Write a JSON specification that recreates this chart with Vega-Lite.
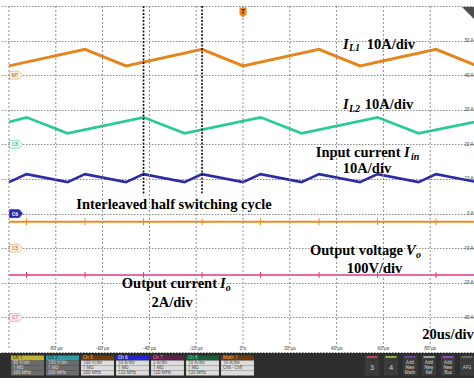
{
  "$schema": "https://vega.github.io/schema/vega-lite/v6.json",
  "background": "white",
  "padding": 0,
  "spacing": 0,
  "bounds": "flush",
  "config": {"view": {"stroke": null}},
  "datasets": {
    "timeDivisions": [
      {"t": -100, "top": 60, "end": -39.2}, {"t": -80, "top": 60, "end": -39.2}, {"t": -60, "top": 60, "end": -39.2},
      {"t": -40, "top": 60, "end": -39.2}, {"t": -20, "top": 60, "end": -39.2}, {"t": 0, "top": 60, "end": -39.2},
      {"t": 20, "top": 60, "end": -39.2}, {"t": 40, "top": 60, "end": -39.2}, {"t": 60, "top": 60, "end": -39.2},
      {"t": 80, "top": 60, "end": -39.2}
    ],
    "timeLabels": [
      {"t": -80, "value": -39.1, "text": "-80 µs"}, {"t": -60, "value": -39.1, "text": "-60 µs"},
      {"t": -40, "value": -39.1, "text": "-40 µs"}, {"t": -20, "value": -39.1, "text": "-20 µs"},
      {"t": 0, "value": -39.1, "text": "0 s"}, {"t": 20, "value": -39.1, "text": "20 µs"},
      {"t": 40, "value": -39.1, "text": "40 µs"}, {"t": 60, "value": -39.1, "text": "60 µs"},
      {"t": 80, "value": -39.1, "text": "80 µs"}
    ],
    "il1": [
      {"t": -100, "value": 2.7}, {"t": -67.5, "value": 7.5}, {"t": -50, "value": 2.7}, {"t": -17.5, "value": 7.5},
      {"t": 0, "value": 2.7}, {"t": 32.5, "value": 7.5}, {"t": 50, "value": 2.7}, {"t": 82.5, "value": 7.5}, {"t": 100, "value": 2.7}
    ],
    "il2": [
      {"t": -100, "value": 6.5}, {"t": -92.5, "value": 7.8}, {"t": -75, "value": 3.2}, {"t": -42.5, "value": 7.8},
      {"t": -25, "value": 3.2}, {"t": 7.5, "value": 7.8}, {"t": 25, "value": 3.2}, {"t": 57.5, "value": 7.8},
      {"t": 75, "value": 3.2}, {"t": 100, "value": 6.6}
    ],
    "iin": [
      {"t": -100, "value": 9.1}, {"t": -92.5, "value": 11.4}, {"t": -75, "value": 9.1}, {"t": -67.5, "value": 11.4},
      {"t": -50, "value": 9.1}, {"t": -42.5, "value": 11.4}, {"t": -25, "value": 9.1}, {"t": -17.5, "value": 11.4},
      {"t": 0, "value": 9.1}, {"t": 7.5, "value": 11.4}, {"t": 25, "value": 9.1}, {"t": 32.5, "value": 11.4},
      {"t": 50, "value": 9.1}, {"t": 57.5, "value": 11.4}, {"t": 75, "value": 9.1}, {"t": 82.5, "value": 11.4}, {"t": 100, "value": 9.1}
    ],
    "vo": [{"t": -100, "value": 76.6}, {"t": 100, "value": 76.6}],
    "voEdges": [
      {"t": -92.5, "value": 76.6}, {"t": -67.5, "value": 76.6}, {"t": -42.5, "value": 76.6}, {"t": -17.5, "value": 76.6},
      {"t": 7.5, "value": 76.6}, {"t": 32.5, "value": 76.6}, {"t": 57.5, "value": 76.6}, {"t": 82.5, "value": 76.6}
    ],
    "io": [{"t": -100, "value": 2.45}, {"t": 100, "value": 2.45}],
    "ioEdges": [
      {"t": -92.5, "value": 2.45}, {"t": -67.5, "value": 2.45}, {"t": -42.5, "value": 2.45}, {"t": -17.5, "value": 2.45},
      {"t": 7.5, "value": 2.45}, {"t": 32.5, "value": 2.45}, {"t": 57.5, "value": 2.45}, {"t": 82.5, "value": 2.45}
    ],
    "markers": [
      {"channel": "M1", "label": "M1", "t": -97, "value": 0},
      {"channel": "C8", "label": "C8", "t": -97, "value": 0},
      {"channel": "C6", "label": "C6", "t": -97, "value": 0},
      {"channel": "C5", "label": "C5", "t": -97, "value": 0},
      {"channel": "C7", "label": "C7", "t": -97, "value": 0}
    ],
    "cursors": [{"t": -42.5, "top": 60, "end": 5.3}, {"t": -17.5, "top": 60, "end": 5.9}],
    "labels": [
      {"t": 63.2, "value": 47.7, "text": "10A/div"},
      {"t": 62.4, "value": 30.1, "text": "10A/div"},
      {"t": 53.0, "value": 11.65, "text": "10A/div"},
      {"t": -29.5, "value": 1.24, "text": "Interleaved half switching cycle"},
      {"t": 56.2, "value": -17.1, "text": "100V/div"},
      {"t": -30.3, "value": -27.1, "text": "2A/div"},
      {"t": 87.6, "value": -36.3, "text": "20us/div"}
    ],
    "captions": [
      {"t": 67.3, "value": 16.45, "text": "Input current"},
      {"t": 68.4, "value": -12.0, "text": "Output voltage"},
      {"t": -11.1, "value": -21.6, "text": "Output current"}
    ],
    "symbols": [
      {"t": 42.7, "value": 47.7, "text": "I"},
      {"t": 42.7, "value": 30.1, "text": "I"},
      {"t": 68.8, "value": 16.45, "text": "I"},
      {"t": 69.7, "value": -12.0, "text": "V"},
      {"t": -9.8, "value": -21.6, "text": "I"}
    ],
    "subscripts": [
      {"t": 45.3, "value": 47.0, "text": "L1"},
      {"t": 45.3, "value": 29.4, "text": "L2"},
      {"t": 71.8, "value": 15.6, "text": "in"},
      {"t": 73.9, "value": -12.8, "text": "o"},
      {"t": -7.35, "value": -22.4, "text": "o"}
    ],
    "trigger": [{"t": 0, "value": 58.1, "label": "T"}],
    "offscreen": [{"t": 96.6, "value": 57.7}],
    "badges": [
      {"ch": "Ch1", "row": "head", "text": "Ch 1"}, {"ch": "Ch1", "row": "a", "text": "50 V/div"}, {"ch": "Ch1", "row": "b", "text": "1 MΩ"}, {"ch": "Ch1", "row": "c", "text": "200 MHz"},
      {"ch": "Ch2", "row": "head", "text": "Ch 2"}, {"ch": "Ch2", "row": "a", "text": "100 V/div"}, {"ch": "Ch2", "row": "b", "text": "1 MΩ"}, {"ch": "Ch2", "row": "c", "text": "200 MHz"},
      {"ch": "Ch5", "row": "head", "text": "Ch 5"}, {"ch": "Ch5", "row": "a", "text": "100 V/div"}, {"ch": "Ch5", "row": "b", "text": "1 MΩ"}, {"ch": "Ch5", "row": "c", "text": "200 MHz"},
      {"ch": "Ch6", "row": "head", "text": "Ch 6"}, {"ch": "Ch6", "row": "a", "text": "10 A/div"}, {"ch": "Ch6", "row": "b", "text": "1 MΩ"}, {"ch": "Ch6", "row": "c", "text": "120 MHz"},
      {"ch": "Ch7", "row": "head", "text": "Ch 7"}, {"ch": "Ch7", "row": "a", "text": "2 A/div"}, {"ch": "Ch7", "row": "b", "text": "1 MΩ"}, {"ch": "Ch7", "row": "c", "text": "120 MHz"},
      {"ch": "Ch8", "row": "head", "text": "Ch 8"}, {"ch": "Ch8", "row": "a", "text": "10 A/div"}, {"ch": "Ch8", "row": "b", "text": "1 MΩ"}, {"ch": "Ch8", "row": "c", "text": "120 MHz"},
      {"ch": "Math1", "row": "head", "text": "Math 1"}, {"ch": "Math1", "row": "a", "text": "10 A/div"}, {"ch": "Math1", "row": "b", "text": "Ch6 - Ch8"}, {"ch": "Math1", "row": "c", "text": ""}
    ],
    "buttons": [
      {"key": "3", "row": "head", "text": ""}, {"key": "3", "row": "a", "text": ""}, {"key": "3", "row": "b", "text": "3"}, {"key": "3", "row": "c", "text": ""},
      {"key": "4", "row": "head", "text": ""}, {"key": "4", "row": "a", "text": ""}, {"key": "4", "row": "b", "text": "4"}, {"key": "4", "row": "c", "text": ""},
      {"key": "Math", "row": "head", "text": ""}, {"key": "Math", "row": "a", "text": "Add"}, {"key": "Math", "row": "b", "text": "New"}, {"key": "Math", "row": "c", "text": "Math"},
      {"key": "Ref", "row": "head", "text": ""}, {"key": "Ref", "row": "a", "text": "Add"}, {"key": "Ref", "row": "b", "text": "New"}, {"key": "Ref", "row": "c", "text": "Ref"},
      {"key": "Bus", "row": "head", "text": ""}, {"key": "Bus", "row": "a", "text": "Add"}, {"key": "Bus", "row": "b", "text": "New"}, {"key": "Bus", "row": "c", "text": "Bus"},
      {"key": "AFG", "row": "head", "text": ""}, {"key": "AFG", "row": "a", "text": ""}, {"key": "AFG", "row": "b", "text": "AFG"}, {"key": "AFG", "row": "c", "text": ""}
    ]
  },
  "vconcat": [
    {
      "width": 474,
      "height": 353,
      "resolve": {"scale": {"y": "independent"}},
      "layer": [
        {
          "encoding": {
            "x": {"field": "t", "type": "quantitative", "scale": {"domain": [-103.846, 98.718], "nice": false, "zero": false}, "axis": null},
            "y": {"field": "value", "type": "quantitative", "scale": {"domain": [-40.29, 61.73], "nice": false, "zero": false},
              "axis": {"orient": "right", "values": [-40, -30, -20, -10, 0, 10, 20, 30, 40, 50, 60],
                "labelExpr": "datum.value === 60 || datum.value === -40 ? '' : datum.value + ' A'",
                "labelAlign": "right", "labelBaseline": "middle", "labelPadding": -1, "domain": false, "ticks": false,
                "grid": true, "gridColor": "#8a8a8a", "gridDash": [1.5, 1.5], "gridWidth": 1.1,
                "labelFontSize": 4.5, "labelColor": "#444444", "labelFont": "Roboto", "labelFlush": false, "labelOverlap": false, "title": null}}
          },
          "layer": [
            {"data": {"name": "iin"}, "mark": {"type": "line", "color": "#2b2ba6", "strokeWidth": 2.6, "clip": true}},
            {"data": {"name": "timeLabels"},
              "mark": {"type": "text", "align": "center", "baseline": "middle", "fontSize": 4.8, "font": "Roboto", "color": "#444444"},
              "encoding": {"text": {"field": "text"}}},
            {"data": {"name": "markers"}, "transform": [{"filter": "datum.channel === 'C6'"}],
              "mark": {"type": "point", "shape": "M-1,-0.6L0.5,-0.6L1,0L0.5,0.6L-1,0.6Z", "size": 169, "filled": true, "fill": "#2a2ab6", "stroke": "#2a2ab6", "strokeWidth": 0.8, "opacity": 1}},
            {"data": {"name": "markers"}, "transform": [{"filter": "datum.channel === 'C6'"}],
              "mark": {"type": "text", "fontSize": 5, "font": "Roboto", "fontWeight": "bold", "color": "#ffffff", "dx": -1},
              "encoding": {"text": {"field": "label"}}}
          ]
        },
        {
          "encoding": {
            "x": {"field": "t", "type": "quantitative", "scale": {"domain": [-103.846, 98.718], "nice": false, "zero": false}, "axis": null},
            "y": {"field": "value", "type": "quantitative", "scale": {"domain": [-80.29, 21.73], "nice": false, "zero": false}, "axis": null}
          },
          "layer": [
            {"data": {"name": "il1"}, "mark": {"type": "line", "color": "#e5851d", "strokeWidth": 3, "clip": true}},
            {"data": {"name": "markers"}, "transform": [{"filter": "datum.channel === 'M1'"}],
              "mark": {"type": "point", "shape": "M-1,-0.6L0.5,-0.6L1,0L0.5,0.6L-1,0.6Z", "size": 169, "filled": true, "fill": "#fdf0de", "stroke": "#efb676", "strokeWidth": 0.8, "opacity": 1}},
            {"data": {"name": "markers"}, "transform": [{"filter": "datum.channel === 'M1'"}],
              "mark": {"type": "text", "fontSize": 5, "font": "Roboto", "color": "#8a6a48", "dx": -1},
              "encoding": {"text": {"field": "label"}}}
          ]
        },
        {
          "encoding": {
            "x": {"field": "t", "type": "quantitative", "scale": {"domain": [-103.846, 98.718], "nice": false, "zero": false}, "axis": null},
            "y": {"field": "value", "type": "quantitative", "scale": {"domain": [-60.29, 41.73], "nice": false, "zero": false}, "axis": null}
          },
          "layer": [
            {"data": {"name": "il2"}, "mark": {"type": "line", "color": "#27cc91", "strokeWidth": 2.6, "clip": true}},
            {"data": {"name": "markers"}, "transform": [{"filter": "datum.channel === 'C8'"}],
              "mark": {"type": "point", "shape": "M-1,-0.6L0.5,-0.6L1,0L0.5,0.6L-1,0.6Z", "size": 169, "filled": true, "fill": "#e9faf3", "stroke": "#84dcbd", "strokeWidth": 0.8, "opacity": 1}},
            {"data": {"name": "markers"}, "transform": [{"filter": "datum.channel === 'C8'"}],
              "mark": {"type": "text", "fontSize": 5, "font": "Roboto", "color": "#5a8f7e", "dx": -1},
              "encoding": {"text": {"field": "label"}}}
          ]
        },
        {
          "encoding": {
            "x": {"field": "t", "type": "quantitative", "scale": {"domain": [-103.846, 98.718], "nice": false, "zero": false}, "axis": null},
            "y": {"field": "value", "type": "quantitative", "scale": {"domain": [-302.89, 717.34], "nice": false, "zero": false}, "axis": null}
          },
          "layer": [
            {"data": {"name": "vo"}, "mark": {"type": "line", "color": "#ee8a24", "strokeWidth": 2, "clip": true}},
            {"data": {"name": "voEdges"}, "mark": {"type": "tick", "orient": "vertical", "size": 7, "thickness": 1, "color": "#ee8a24", "opacity": 1}},
            {"data": {"name": "markers"}, "transform": [{"filter": "datum.channel === 'C5'"}],
              "mark": {"type": "point", "shape": "M-1,-0.6L0.5,-0.6L1,0L0.5,0.6L-1,0.6Z", "size": 169, "filled": true, "fill": "#fdeedd", "stroke": "#f2b57a", "strokeWidth": 0.8, "opacity": 1}},
            {"data": {"name": "markers"}, "transform": [{"filter": "datum.channel === 'C5'"}],
              "mark": {"type": "text", "fontSize": 5, "font": "Roboto", "color": "#9a6a40", "dx": -1},
              "encoding": {"text": {"field": "label"}}}
          ]
        },
        {
          "encoding": {
            "x": {"field": "t", "type": "quantitative", "scale": {"domain": [-103.846, 98.718], "nice": false, "zero": false}, "axis": null},
            "y": {"field": "value", "type": "quantitative", "scale": {"domain": [-2.058, 18.347], "nice": false, "zero": false}, "axis": null}
          },
          "layer": [
            {"data": {"name": "io"}, "mark": {"type": "line", "color": "#e0368c", "strokeWidth": 1.6, "clip": true}},
            {"data": {"name": "ioEdges"}, "mark": {"type": "tick", "orient": "vertical", "size": 6, "thickness": 1, "color": "#e0368c", "opacity": 1}},
            {"data": {"name": "markers"}, "transform": [{"filter": "datum.channel === 'C7'"}],
              "mark": {"type": "point", "shape": "M-1,-0.6L0.5,-0.6L1,0L0.5,0.6L-1,0.6Z", "size": 169, "filled": true, "fill": "#fce8f2", "stroke": "#e9a5c8", "strokeWidth": 0.8, "opacity": 1}},
            {"data": {"name": "markers"}, "transform": [{"filter": "datum.channel === 'C7'"}],
              "mark": {"type": "text", "fontSize": 5, "font": "Roboto", "color": "#9a5a7a", "dx": -1},
              "encoding": {"text": {"field": "label"}}}
          ]
        },
        {
          "data": {"name": "timeDivisions"},
          "mark": {"type": "rule", "stroke": "#8c8c8c", "strokeDash": [2, 2], "strokeWidth": 1},
          "encoding": {
            "x": {"field": "t", "type": "quantitative", "scale": {"domain": [-103.846, 98.718], "nice": false, "zero": false}, "axis": null},
            "y": {"field": "top", "type": "quantitative", "scale": {"domain": [-40.29, 61.73], "nice": false, "zero": false}, "axis": null},
            "y2": {"field": "end"}
          }
        },
        {
          "data": {"name": "cursors"},
          "mark": {"type": "rule", "stroke": "#111111", "strokeDash": [2, 1.5], "strokeWidth": 1.6},
          "encoding": {
            "x": {"field": "t", "type": "quantitative", "scale": {"domain": [-103.846, 98.718], "nice": false, "zero": false}, "axis": null},
            "y": {"field": "top", "type": "quantitative", "scale": {"domain": [-40.29, 61.73], "nice": false, "zero": false}, "axis": null},
            "y2": {"field": "end"}
          }
        },
        {
          "encoding": {
            "x": {"field": "t", "type": "quantitative", "scale": {"domain": [-103.846, 98.718], "nice": false, "zero": false}, "axis": null},
            "y": {"field": "value", "type": "quantitative", "scale": {"domain": [-40.29, 61.73], "nice": false, "zero": false}, "axis": null}
          },
          "layer": [
            {"data": {"name": "labels"},
              "mark": {"type": "text", "align": "center", "baseline": "alphabetic", "font": "Liberation Serif", "fontWeight": "bold", "fontSize": 14.5, "color": "#000000"},
              "encoding": {"text": {"field": "text"}}},
            {"data": {"name": "captions"},
              "mark": {"type": "text", "align": "right", "baseline": "alphabetic", "font": "Liberation Serif", "fontWeight": "bold", "fontSize": 14.5, "color": "#000000"},
              "encoding": {"text": {"field": "text"}}},
            {"data": {"name": "symbols"},
              "mark": {"type": "text", "align": "left", "baseline": "alphabetic", "font": "Liberation Serif", "fontWeight": "bold", "fontStyle": "italic", "fontSize": 14.5, "color": "#000000"},
              "encoding": {"text": {"field": "text"}}},
            {"data": {"name": "subscripts"},
              "mark": {"type": "text", "align": "left", "baseline": "alphabetic", "font": "Liberation Serif", "fontWeight": "bold", "fontStyle": "italic", "fontSize": 10, "color": "#000000"},
              "encoding": {"text": {"field": "text"}}},
            {"data": {"name": "trigger"},
              "mark": {"type": "point", "shape": "M-0.7,-1L0.7,-1L0.7,0.4L0,1L-0.7,0.4Z", "size": 100, "filled": true, "fill": "#e8861a", "opacity": 1}},
            {"data": {"name": "trigger"},
              "mark": {"type": "text", "fontSize": 6.5, "font": "Roboto", "fontWeight": "bold", "color": "#3d2a10", "dy": -1},
              "encoding": {"text": {"field": "label"}}},
            {"data": {"name": "offscreen"},
              "mark": {"type": "point", "shape": "M-1,-1L1,-1L1,1Z", "size": 196, "filled": true, "fill": "#4d4d4d", "opacity": 1}}
          ]
        }
      ]
    },
    {
      "width": 474,
      "height": 25,
      "view": {"fill": "#2e2e2e", "stroke": null},
      "resolve": {"scale": {"x": "independent"}},
      "layer": [
        {
          "data": {"name": "badges"},
          "encoding": {
            "x": {"field": "ch", "type": "nominal", "scale": {"domain": ["Ch1", "Ch2", "Ch5", "Ch6", "Ch7", "Ch8", "Math1"], "range": [10, 255], "paddingInner": 0.06, "paddingOuter": 0.03}, "axis": null},
            "y": {"field": "row", "type": "nominal", "scale": {"domain": ["head", "a", "b", "c"], "paddingInner": 0, "paddingOuter": 0.5}, "axis": null}
          },
          "layer": [
            {"transform": [{"filter": "datum.row === 'head'"}],
              "mark": {"type": "rect"},
              "encoding": {"fill": {"condition": [
                {"test": "datum.ch === 'Ch1'", "value": "#c2b236"},
                {"test": "datum.ch === 'Ch2'", "value": "#2f9ea6"},
                {"test": "datum.ch === 'Ch6'", "value": "#2424d0"},
                {"test": "datum.ch === 'Ch7'", "value": "#5c2046"},
                {"test": "datum.ch === 'Ch8'", "value": "#1c5a3c"}
              ], "value": "#6b3c10"}}},
            {"transform": [{"filter": "datum.row !== 'head'"}],
              "mark": {"type": "rect"},
              "encoding": {"fill": {"condition": {"test": "datum.ch === 'Ch1' || datum.ch === 'Ch2'", "value": "#6b6b6b"}, "value": "#dcdcdc"}}},
            {"transform": [{"filter": "datum.row === 'head'"}],
              "mark": {"type": "text", "align": "left", "baseline": "middle", "dx": -14.5, "fontSize": 4.8, "font": "Roboto"},
              "encoding": {"text": {"field": "text"}, "color": {"condition": [
                {"test": "datum.ch === 'Ch1'", "value": "#2a2a10"},
                {"test": "datum.ch === 'Ch2'", "value": "#0f3a3c"},
                {"test": "datum.ch === 'Ch6'", "value": "#ffffff"},
                {"test": "datum.ch === 'Ch7'", "value": "#ee80c0"},
                {"test": "datum.ch === 'Ch8'", "value": "#60e0a0"}
              ], "value": "#f0a050"}}},
            {"transform": [{"filter": "datum.row !== 'head'"}],
              "mark": {"type": "text", "align": "left", "baseline": "middle", "dx": -14.5, "fontSize": 4.5, "font": "Roboto"},
              "encoding": {"text": {"field": "text"}, "color": {"condition": {"test": "datum.ch === 'Ch1' || datum.ch === 'Ch2'", "value": "#d6d6d6"}, "value": "#505050"}}}
          ]
        },
        {
          "data": {"name": "buttons"},
          "encoding": {
            "x": {"field": "key", "type": "nominal", "scale": {"domain": ["3", "4", "Math", "Ref", "Bus", "AFG"], "range": [362.5, 476.5], "paddingInner": 0.26, "paddingOuter": 0.13}, "axis": null},
            "y": {"field": "row", "type": "nominal", "scale": {"domain": ["head", "a", "b", "c"], "paddingInner": 0, "paddingOuter": 0.5}, "axis": null}
          },
          "layer": [
            {"mark": {"type": "rect", "color": "#3c3c3c"}},
            {"transform": [{"filter": "datum.row === 'head'"}],
              "mark": {"type": "tick", "orient": "horizontal", "size": 11, "thickness": 1.5, "opacity": 1},
              "encoding": {
                "y": {"field": "row", "type": "nominal", "bandPosition": 0.3},
                "color": {"condition": [
                  {"test": "datum.key === '3'", "value": "#e04a5a"},
                  {"test": "datum.key === '4'", "value": "#a8d040"},
                  {"test": "datum.key === 'Math'", "value": "#8040b0"},
                  {"test": "datum.key === 'Ref'", "value": "#c8c8c8"},
                  {"test": "datum.key === 'Bus'", "value": "#b848d8"}
                ], "value": "#777777"}}},
            {"transform": [{"filter": "datum.key === '3' || datum.key === '4'"}],
              "mark": {"type": "text", "align": "center", "baseline": "middle", "fontSize": 7.5, "font": "Roboto", "color": "#cfcfcf"},
              "encoding": {"text": {"field": "text"}}},
            {"transform": [{"filter": "datum.key !== '3' && datum.key !== '4'"}],
              "mark": {"type": "text", "align": "center", "baseline": "middle", "fontSize": 4.5, "font": "Roboto", "color": "#cfcfcf"},
              "encoding": {"text": {"field": "text"}}}
          ]
        }
      ]
    }
  ]
}
